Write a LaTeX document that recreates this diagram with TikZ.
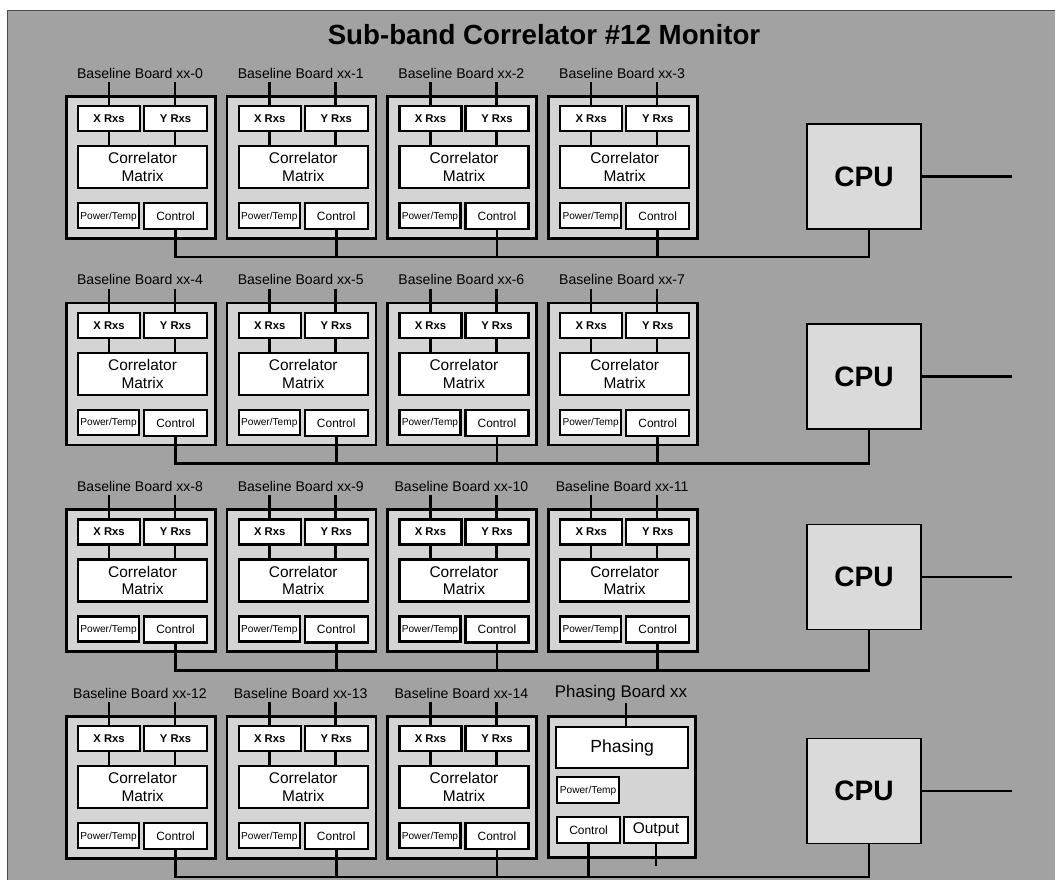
\documentclass[tikz,border=0pt]{standalone}
\usepackage{fontspec}
\setmainfont{Liberation Sans}
\usepackage{tikz}
\usetikzlibrary{calc}

\definecolor{panelgray}{HTML}{A2A2A2}
\definecolor{boardgray}{HTML}{D4D4D4}
\definecolor{cpugray}{HTML}{DADADA}
\newcommand\upx{0.025cm}

\begin{document}
\begin{tikzpicture}[x=0.025cm, y=-0.025cm,
    board/.style={draw, line width=1.9pt, fill=boardgray, anchor=north west, minimum width=149*\upx, minimum height=142*\upx},
    part/.style={draw, line width=1.5pt, fill=white, anchor=north west, inner sep=0pt, align=center},
    lbl/.style={font=\fontsize{10}{10}\selectfont, inner sep=1pt},
    cpubox/.style={draw, line width=0.8pt, fill=cpugray, minimum width=114*\upx, minimum height=105*\upx, font=\bfseries\fontsize{20}{20}\selectfont},
    wire/.style={line width=1.9pt}]
\useasboundingbox (0,0) rectangle (1055,880);
% background panel
\fill[panelgray] (7,10) rectangle (1055,880);
\draw[line width=0.6pt, black!70] (7,880) -- (7,10) -- (1055,10);

\node[font=\bfseries\fontsize{19.7}{19.7}\selectfont] (title) at (544,35) {Sub-band Correlator \#12 Monitor};

% baseline boards
\foreach \i in {0,...,14} {
    \pgfmathtruncatemacro\col{mod(\i,4)}
    \pgfmathtruncatemacro\row{int(\i/4)}
    \pgfmathsetmacro\L{65+160.7*\col}
    \pgfmathsetmacro\B{95+206.7*\row}
    \node[board] (bd\i) at (\L,\B) {};
    \node[lbl] (lb\i) at (\L+75,\B-22) {Baseline Board xx-\i};
    \node[part, minimum width=62*\upx, minimum height=25*\upx, font=\bfseries\fontsize{8}{8}\selectfont] (xr\i) at (\L+12,\B+10) {X Rxs};
    \node[part, minimum width=63*\upx, minimum height=25*\upx, font=\bfseries\fontsize{8}{8}\selectfont] (yr\i) at (\L+78,\B+10) {Y Rxs};
    \node[part, minimum width=129*\upx, minimum height=42*\upx, font=\fontsize{11}{12.5}\selectfont] (cm\i) at (\L+12,\B+50) {Correlator\\Matrix};
    \node[part, minimum width=61*\upx, minimum height=25*\upx, text depth=0pt, font=\fontsize{7.2}{7.2}\selectfont] (pt\i) at (\L+12,\B+107) {Power/Temp};
    \node[part, minimum width=63*\upx, minimum height=26*\upx, font=\fontsize{8.5}{8.5}\selectfont] (ct\i) at (\L+78,\B+107) {Control};
    \coordinate (xin\i) at (\L+44,\B-13);
    \coordinate (yin\i) at (\L+110,\B-13);
    \draw[wire] (xin\i) -- (xin\i |- xr\i.north);
    \draw[wire] (yin\i) -- (yin\i |- yr\i.north);
    \draw[wire] (xin\i |- xr\i.south) -- (xin\i |- cm\i.north);
    \draw[wire] (yin\i |- yr\i.south) -- (yin\i |- cm\i.north);
}

% phasing board
\node[board, minimum width=147*\upx, minimum height=141*\upx] (pb) at (547,715) {};
\node[lbl, font=\fontsize{12}{12}\selectfont] (pblb) at (621,693) {Phasing Board xx};
\node[part, minimum width=132*\upx, minimum height=41*\upx, font=\fontsize{12.5}{12.5}\selectfont] (ph) at (555,726) {Phasing};
\node[part, minimum width=62*\upx, minimum height=26*\upx, text depth=0pt, font=\fontsize{7.2}{7.2}\selectfont] (pbpt) at (556,776) {Power/Temp};
\node[part, minimum width=63*\upx, minimum height=26*\upx, font=\fontsize{8.5}{8.5}\selectfont] (ct15) at (556,816) {Control};
\node[part, minimum width=64*\upx, minimum height=26*\upx, font=\fontsize{11}{11}\selectfont] (pbout) at (623,816) {Output};
\coordinate (phin) at (626,703);
\coordinate (pbend) at (655,866);
\draw[wire] (phin) -- (phin |- ph.north);
\draw[wire] (pbout.south) -- (pbout.south |- pbend);

% CPUs and control buses
\foreach \r/\y in {0/176.5, 1/376.5, 2/577, 3/791} {
    \pgfmathsetmacro\B{95+206.7*\r}
    \pgfmathtruncatemacro\a{4*\r}
    \node[cpubox] (cpu\r) at (864,\y) {CPU};
    \coordinate (out\r) at (1012,\y);
    \coordinate (bus\r) at (869,\B+162);
    \draw[wire] (cpu\r.east) -- (out\r);
    \draw[wire] (ct\a.south) |- (bus\r) -- (bus\r |- cpu\r.south);
    \foreach \c in {1,2,3} {
        \pgfmathtruncatemacro\k{\a+\c}
        \draw[wire] (ct\k.south) -- (ct\k.south |- bus\r);
    }
}
\end{tikzpicture}
\end{document}
